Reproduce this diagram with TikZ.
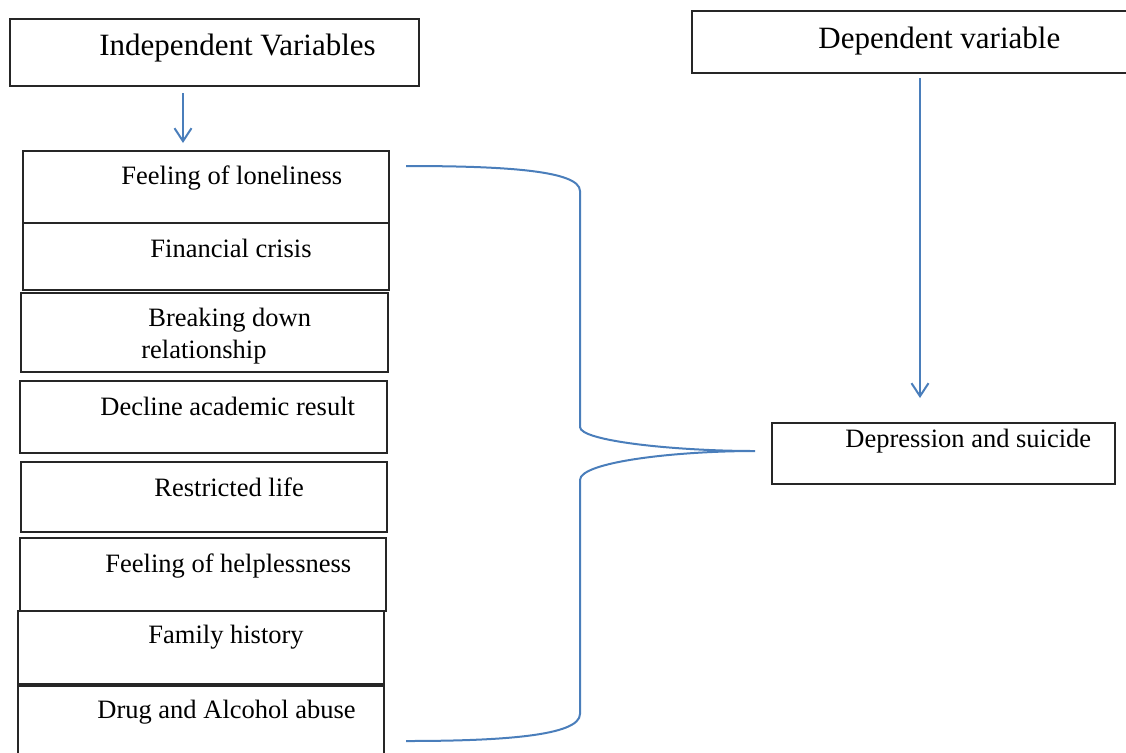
\documentclass[tikz,border=0pt]{standalone}
\usepackage{fontspec}
\setmainfont{Liberation Serif}
\usetikzlibrary{arrows.meta}
\definecolor{lineblue}{HTML}{4A7EBB}
\begin{document}
\begin{tikzpicture}[x=0.5pt,y=-0.5pt,
  box/.style={draw=black!85,line width=0.7pt,rectangle,inner sep=0pt,outer sep=0pt},
  bigtxt/.style={anchor=base west,inner sep=0pt,font=\fontsize{15.5}{18}\selectfont},
  txt/.style={anchor=base west,inner sep=0pt,font=\fontsize{13.25}{16}\selectfont},
  arr/.style={draw=lineblue,line width=1pt,-{Straight Barb[length=6.5pt,width=8.5pt]}},
  brace/.style={draw=lineblue,line width=1pt}]
\useasboundingbox (0,0) rectangle (1126,752);
\clip (0,0) rectangle (1126,752);
% header boxes
\node[box,minimum width=204.5pt,minimum height=33.5pt] (ind) at (214.5,52.5) {};
\node[box,minimum width=224pt,minimum height=31pt] (dep) at (916,42) {};
\node[bigtxt] (indt) at (99,55) {Independent Variables};
\node[bigtxt] (dept) at (818,48) {Dependent variable};
% left boxes
\node[box,minimum width=183pt,minimum height=36pt] (b1) at (206,187) {};
\node[box,minimum width=183pt,minimum height=33.5pt] (b2) at (206,256.5) {};
\node[box,minimum width=183.5pt,minimum height=39.5pt] (b3) at (204.5,332.5) {};
\node[box,minimum width=183.5pt,minimum height=36pt] (b4) at (203.5,417) {};
\node[box,minimum width=183pt,minimum height=35pt] (b5) at (204,497) {};
\node[box,minimum width=183pt,minimum height=36.5pt] (b6) at (203,574.5) {};
\node[box,minimum width=183pt,minimum height=36.5pt] (b7) at (201,647.5) {};
\node[box,minimum width=183pt,minimum height=42pt] (b8) at (201,728) {};
\node[txt] (t1) at (121,184) {Feeling of loneliness};
\node[txt] (t2) at (150,257) {Financial crisis};
\node[txt] (t3a) at (148,326) {Breaking down};
\node[txt] (t3b) at (141,358) {relationship};
\node[txt] (t4) at (100,415) {Decline academic result};
\node[txt] (t5) at (154,496) {Restricted life};
\node[txt] (t6) at (105,572) {Feeling of helplessness};
\node[txt] (t7) at (148,643) {Family history};
\node[txt] (t8) at (97,718) {Drug and Alcohol abuse};
% outcome box
\node[box,minimum width=171.5pt,minimum height=30.5pt] (dpr) at (943.5,453.5) {};
\node[txt] (dprt) at (845,447) {Depression and suicide};
% arrows
\draw[arr] ([xshift=-15.75pt,yshift=-3.5pt]ind.south) -- ([xshift=-11.5pt,yshift=4pt]b1.north);
\draw[arr] ([xshift=2pt,yshift=-2.5pt]dep.south) -- ([xshift=-11.75pt,yshift=12.5pt]dpr.north);
% brace
\coordinate (btop) at (406,166);
\coordinate (btip) at (755,451);
\coordinate (bbot) at (406,741);
\draw[brace] (btop) .. controls (500,166) and (580,170) .. (580,191)
  -- (580,427) .. controls (580,441) and (675,451) .. (btip)
  .. controls (675,451) and (580,462) .. (580,480)
  -- (580,714) .. controls (580,736) and (500,741) .. (bbot);
\end{tikzpicture}
\end{document}
